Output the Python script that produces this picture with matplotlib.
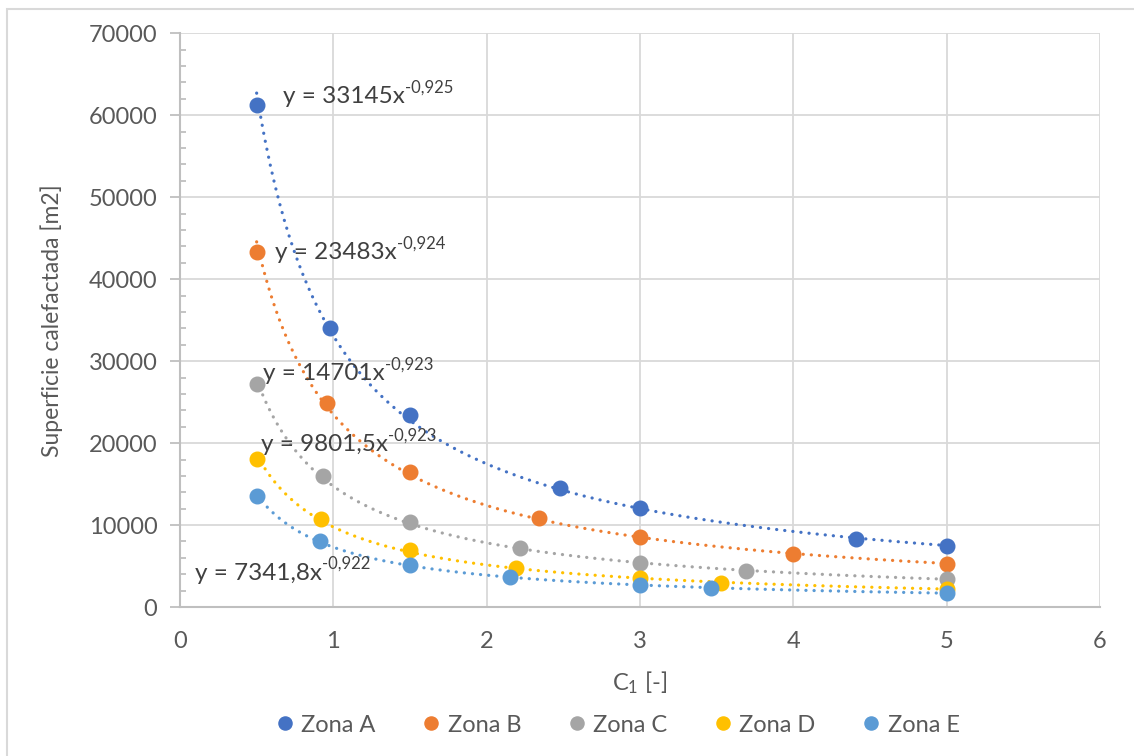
import numpy as np
import matplotlib
matplotlib.use("Agg")
import matplotlib.pyplot as plt
from matplotlib.ticker import MultipleLocator
from matplotlib.patches import Rectangle

plt.rcParams["font.family"] = ["Lato", "DejaVu Sans"]
plt.rcParams["mathtext.fontset"] = "custom"
plt.rcParams["mathtext.rm"] = "Lato"
plt.rcParams["mathtext.it"] = "Lato"

zonas = ["Zona A", "Zona B", "Zona C", "Zona D", "Zona E"]
colors = ["#4472C4", "#ED7D31", "#A5A5A5", "#FFC000", "#5B9BD5"]

x_a = [0.5, 0.98, 1.5, 2.48, 3.0, 4.41, 5.0]
y_a = [61200, 34000, 23400, 14500, 12100, 8300, 7400]
x_b = [0.5, 0.96, 1.5, 2.34, 3.0, 4.0, 5.0]
y_b = [43300, 24900, 16500, 10850, 8540, 6460, 5240]
x_c = [0.5, 0.93, 1.5, 2.22, 3.0, 3.69, 5.0]
y_c = [27200, 15980, 10370, 7200, 5370, 4390, 3410]
x_d = [0.5, 0.92, 1.5, 2.19, 3.0, 3.53, 5.0]
y_d = [18050, 10730, 6950, 4760, 3540, 2930, 2200]
x_e = [0.5, 0.91, 1.5, 2.15, 3.0, 3.46, 5.0]
y_e = [13540, 8050, 5120, 3660, 2680, 2320, 1710]

ec_base = ["y = 33145x", "y = 23483x", "y = 14701x", "y = 9801,5x", "y = 7341,8x"]
ec_exp = ["-0,925", "-0,924", "-0,923", "-0,923", "-0,922"]
eq_pos = [(0.67, 62300), (0.62, 43200), (0.54, 28500), (0.53, 19800), (0.10, 4150)]

fig = plt.figure(figsize=(11.34, 7.56), dpi=100)
fig.patches.append(Rectangle((7 / 1134, -0.1), 1.2, 1.1 - 9 / 756,
                             transform=fig.transFigure, fill=False,
                             edgecolor="#d9d9d9", lw=1.5))
ax = fig.add_axes([0.1587, 0.197, 0.8113, 0.759])

series = [(x_a, y_a), (x_b, y_b), (x_c, y_c), (x_d, y_d), (x_e, y_e)]
for (xs, ys), name, c, base, ex, pos in zip(series, zonas, colors, ec_base, ec_exp, eq_pos):
    xs = np.array(xs)
    ys = np.array(ys)
    # linea de tendencia potencial (ajuste log-log como Excel)
    b, lna = np.polyfit(np.log(xs), np.log(ys), 1)
    xf = np.linspace(xs.min(), xs.max(), 300)
    ax.plot(xf, np.exp(lna) * xf ** b, color=c, lw=2.3,
            linestyle=(0, (0.05, 2.5)), dash_capstyle="round", zorder=2)
    ax.plot(xs, ys, "o", color=c, ms=10.5, label=name, zorder=3)
    t = ax.text(pos[0], pos[1], base, color="#404040", fontsize=17.5,
                va="center", ha="left", zorder=4)
    ax.annotate(ex, xy=(1.0, 0.55), xycoords=t, va="bottom", ha="left",
                fontsize=12, color="#404040", zorder=4)

ax.set_xlim(0, 6)
ax.set_ylim(0, 70000)
ax.xaxis.set_major_locator(MultipleLocator(1))
ax.yaxis.set_major_locator(MultipleLocator(10000))
ax.yaxis.set_minor_locator(MultipleLocator(2000))
ax.grid(True, which="major", color="#d9d9d9", lw=1.3, zorder=0)
ax.set_axisbelow(True)
for s in ["top", "right"]:
    ax.spines[s].set_visible(False)
for s in ["left", "bottom"]:
    ax.spines[s].set_color("#bfbfbf")
    ax.spines[s].set_linewidth(1.5)
ax.tick_params(axis="y", which="major", direction="out", length=7.2, color="#bfbfbf", width=1.3,
               labelsize=17, labelcolor="#595959", pad=9)
ax.tick_params(axis="y", which="minor", direction="in", length=4.5, color="#bfbfbf", width=1.3)
ax.tick_params(axis="x", which="major", length=0, labelsize=17, labelcolor="#595959", pad=17)

ax.set_xlabel("C$_1$ [-]", fontsize=17, color="#595959")
ax.xaxis.set_label_coords(0.5, -(683 - 607) / 574)
ax.xaxis.label.set_va("center")
ax.set_ylabel("Superficie calefactada [m2]", fontsize=16.5, color="#595959")
ax.yaxis.set_label_coords((52 - 180) / 920, 0.5)
ax.yaxis.label.set_va("center")

leg = ax.legend(loc="center", bbox_to_anchor=(0.5 - 22 / 920, -(725 - 607) / 574), ncol=5,
                frameon=False, fontsize=17, handlelength=0.7, handletextpad=0.35,
                columnspacing=2.0, markerscale=0.9)
for t in leg.get_texts():
    t.set_color("#595959")

fig.savefig("out.png", dpi=100)
